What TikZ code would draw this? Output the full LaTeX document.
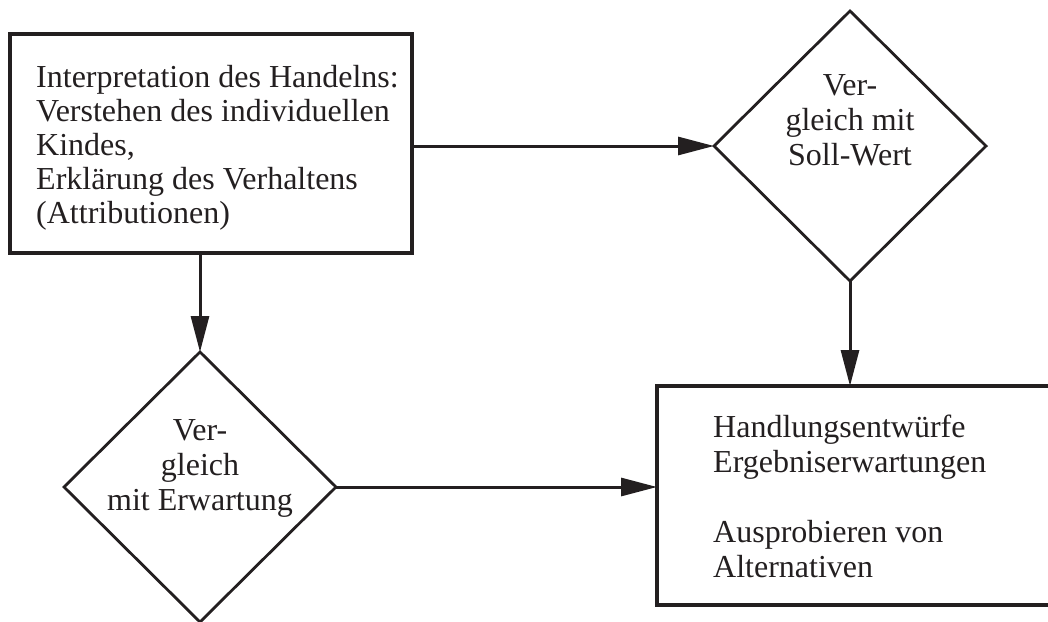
\documentclass[tikz,border=0pt]{standalone}
\usepackage{fontspec}
\setmainfont{Liberation Serif}
\usepackage{tikz}
\usetikzlibrary{arrows.meta,positioning,shapes.geometric}
\definecolor{ink}{RGB}{35,31,32}

\begin{document}
\begin{tikzpicture}[x=1pt,y=-1pt,
    box/.style={draw=ink,line width=3.2pt,rectangle,inner sep=0pt,outer sep=0pt},
    decision/.style={draw=ink,line width=2.8pt,diamond,minimum width=272pt,minimum height=270pt,inner sep=0pt,outer sep=0pt},
    txt/.style={text=ink,inner sep=0pt,font=\fontsize{32}{35}\selectfont},
    flow/.style={draw=ink,line width=3pt,-{Triangle[length=36pt,width=18pt]}}]
    \useasboundingbox (0,0) rectangle (1048,621);
    \clip (0,0) rectangle (1048,621);
    % boxes and decisions
    \node[box,anchor=north west,minimum width=402pt,minimum height=219pt] (interp) at (10,34) {};
    \node[box,anchor=north west,minimum width=403pt,minimum height=219pt] (plan) at (657,386) {};
    \node[decision] (cmpsoll) at (850,146) {};
    \node[decision] (cmpexp) at (200,487) {};
    % texts, anchored at the baseline of their last line
    \node[txt,font=\fontsize{32}{33.8}\selectfont,anchor=base west,align=left] (interptext) at ([xshift=26pt,yshift=-189pt]interp.north west)
      {Interpretation des Handelns:\\Verstehen des individuellen\\Kindes,\\Erklärung des Verhaltens\\(Attributionen)};
    \node[txt,anchor=base west,align=left] (plantext) at ([xshift=56pt,yshift=-191pt]plan.north west)
      {Handlungsentwürfe\\Ergebniserwartungen\\[35pt]Ausprobieren von\\Alternativen};
    \node[txt,anchor=base,align=center] (solltext) at ([yshift=-19pt]cmpsoll.center) {Ver-\\gleich mit\\Soll-Wert};
    \node[txt,anchor=base,align=center] (exptext) at ([yshift=-23pt]cmpexp.center) {Ver-\\gleich\\mit Erwartung};
    % connectors
    \draw[flow] (cmpsoll.west -| interp.east) -- (cmpsoll.west);
    \draw[flow] (interp.south -| cmpexp.north) -- (cmpexp.north);
    \draw[flow] (cmpsoll.south) -- (cmpsoll.south |- plan.north);
    \draw[flow] (cmpexp.east) -- (cmpexp.east -| plan.west);
\end{tikzpicture}
\end{document}
